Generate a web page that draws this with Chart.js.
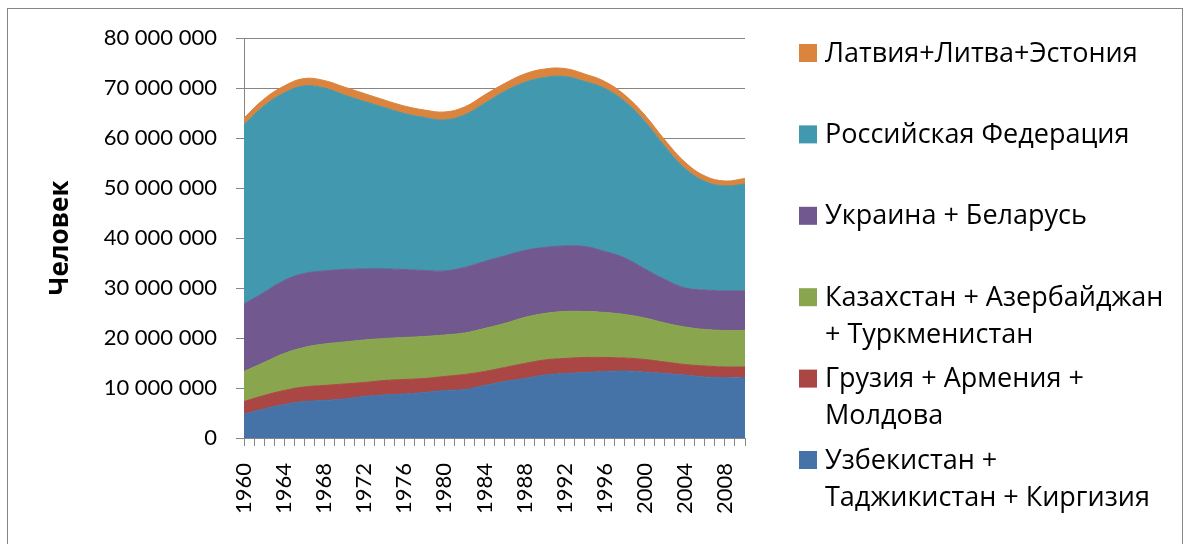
<!DOCTYPE html>
<html>
<head>
<meta charset="utf-8">
<script src="https://cdn.jsdelivr.net/npm/chart.js@4.4.1/dist/chart.umd.min.js"></script>
<style>
  html, body { margin: 0; padding: 0; background: #fff; }
</style>
</head>
<body>
<canvas id="chart" width="1188" height="544"></canvas>
<script>
// годы (точки через 2 года, ось — каждый год)
const years = [1960,1962,1964,1966,1968,1970,1972,1974,1976,1978,1980,1982,1984,
               1986,1988,1990,1992,1994,1996,1998,2000,2002,2004,2006,2008,2010];

// млн человек, снизу вверх по стопке
const centralAsia = [4.8,5.8,6.7,7.3,7.5,7.8,8.3,8.6,8.8,9.1,9.5,9.7,10.5,11.3,11.9,12.6,12.9,13.1,13.3,13.4,13.2,12.9,12.6,12.2,12.1,12.0];
const caucasusMd  = [2.5,2.7,2.8,2.9,3.0,3.0,2.8,2.9,2.9,2.8,2.8,3.0,2.8,2.8,3.0,3.0,3.0,3.0,2.8,2.6,2.5,2.3,2.1,2.2,2.1,2.2];
const kazAzTurk   = [6.0,6.6,7.4,7.9,8.3,8.4,8.5,8.4,8.4,8.4,8.3,8.3,8.6,8.8,9.2,9.3,9.4,9.2,9.0,8.7,8.3,7.8,7.5,7.3,7.3,7.3];
const ukrBel      = [13.5,14.0,14.6,14.8,14.6,14.5,14.2,13.9,13.6,13.2,12.8,13.1,13.4,13.5,13.4,13.2,13.1,13.0,12.2,11.3,9.8,8.7,7.8,7.9,7.9,7.9];
const russia      = [35.9,37.3,37.5,37.5,36.6,34.9,33.5,32.3,31.2,30.6,30.2,30.5,31.6,32.9,33.6,34.0,33.9,33.0,32.6,31.3,29.5,26.6,23.9,21.7,21.0,21.4];
const baltics     = [1.3,1.4,1.4,1.5,1.5,1.6,1.6,1.5,1.5,1.5,1.6,1.6,1.7,1.6,1.7,1.7,1.6,1.5,1.4,1.3,1.3,1.3,1.3,1.1,1.0,1.1];

const seriesNames = [
  ['Узбекистан +', 'Таджикистан + Киргизия'],
  ['Грузия + Армения +', 'Молдова'],
  ['Казахстан + Азербайджан', '+ Туркменистан'],
  ['Украина + Беларусь'],
  ['Российская Федерация'],
  ['Латвия+Литва+Эстония']
];
const seriesValues = [centralAsia, caucasusMd, kazAzTurk, ukrBel, russia, baltics];
const colors = ['#4572A7', '#AA4643', '#89A54E', '#71588F', '#4198AF', '#DB843D'];

const yTicks = [0, 10000000, 20000000, 30000000, 40000000, 50000000, 60000000, 70000000, 80000000];

const FONT = 'Lato, "Open Sans", sans-serif';
const LEGEND_FONT = '"Open Sans", Lato, sans-serif';
const GRID = '#868686';

function fmt(v) {
  return String(v).replace(/\B(?=(\d{3})+(?!\d))/g, ' ');
}

const datasets = seriesValues.map((vals, i) => ({
  label: seriesNames[i].join(' '),
  data: years.map((yr, j) => ({ x: yr, y: vals[j] * 1e6 })),
  backgroundColor: colors[i],
  borderColor: colors[i],
  borderWidth: 1,
  pointRadius: 0,
  tension: 0.4,
  fill: i === 0 ? 'origin' : '-1'
}));

// рамка и легенда справа
const decor = {
  id: 'decor',
  beforeDraw(chart) {
    const ctx = chart.ctx;
    ctx.save();
    ctx.fillStyle = '#fff';
    ctx.fillRect(0, 0, chart.width, chart.height);
    ctx.restore();
  },
  afterDraw(chart) {
    const ctx = chart.ctx;
    ctx.save();
    ctx.strokeStyle = GRID;
    ctx.lineWidth = 1;
    ctx.strokeRect(7.5, 8.5, 1175, 600);

    ctx.font = '27px ' + LEGEND_FONT;
    ctx.textBaseline = 'middle';
    let y = 53;
    for (let i = seriesNames.length - 1; i >= 0; i--) {
      ctx.fillStyle = colors[i];
      ctx.fillRect(799, y - 9, 18, 18);
      ctx.fillStyle = '#000';
      seriesNames[i].forEach((line, k) => ctx.fillText(line, 825, y + 1 + k * 37));
      y += 81.4;
    }
    ctx.restore();
  }
};

new Chart(document.getElementById('chart'), {
  type: 'line',
  data: { datasets: datasets },
  plugins: [decor],
  options: {
    responsive: false,
    animation: false,
    devicePixelRatio: 1,
    layout: { padding: { left: 41, right: 443, top: 38, bottom: 0 } },
    plugins: { legend: { display: false }, tooltip: { enabled: false } },
    scales: {
      x: {
        type: 'linear',
        min: 1960,
        max: 2010,
        afterFit(scale) { scale.height = 106; },
        afterBuildTicks(scale) {
          scale.ticks = [];
          for (let v = 1960; v <= 2010; v++) scale.ticks.push({ value: v });
        },
        grid: { drawOnChartArea: false, color: GRID, tickLength: 8 },
        border: { color: GRID },
        ticks: {
          autoSkip: false,
          maxRotation: 90,
          minRotation: 90,
          padding: 17,
          color: '#000',
          font: { family: FONT, size: 22 },
          callback: v => ((v - 1960) % 4 === 0 ? String(v) : '')
        }
      },
      y: {
        stacked: true,
        min: 0,
        max: 80000000,
        afterFit(scale) { scale.width = 203; },
        afterBuildTicks(scale) { scale.ticks = yTicks.map(v => ({ value: v })); },
        grid: { color: GRID, tickLength: 8 },
        border: { color: GRID },
        ticks: {
          padding: 19,
          color: '#000',
          font: { family: FONT, size: 22 },
          callback: v => fmt(v)
        },
        title: {
          display: true,
          text: 'Человек',
          color: '#000',
          font: { family: LEGEND_FONT, size: 26, weight: 'bold' }
        }
      }
    }
  }
});
</script>
</body>
</html>
